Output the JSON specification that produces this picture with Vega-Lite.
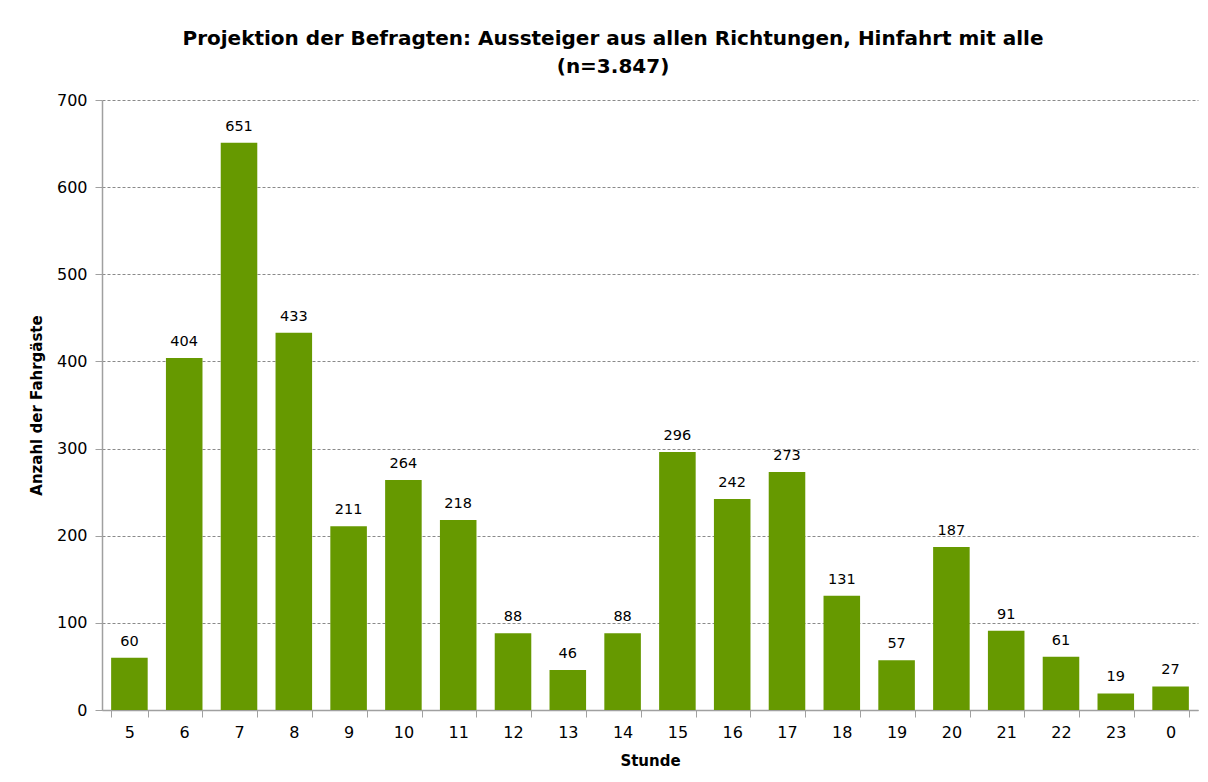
{
  "$schema": "https://vega.github.io/schema/vega-lite/v6.json",
  "width": 1096,
  "height": 610,
  "autosize": {"type": "none"},
  "padding": {"left": 102, "top": 100, "right": 10, "bottom": 72},
  "background": "white",
  "config": {
    "font": "DejaVu Sans",
    "view": {"stroke": null}
  },
  "title": {
    "text": ["Projektion der Befragten: Aussteiger aus allen Richtungen, Hinfahrt mit alle", "(n=3.847)"],
    "font": "DejaVu Sans",
    "fontSize": 20,
    "fontWeight": "bold",
    "color": "black",
    "anchor": "middle",
    "dx": -37,
    "offset": 15,
    "lineHeight": 28
  },
  "data": {
    "values": [
      {"Stunde": "5", "Anzahl": 60},
      {"Stunde": "6", "Anzahl": 404},
      {"Stunde": "7", "Anzahl": 651},
      {"Stunde": "8", "Anzahl": 433},
      {"Stunde": "9", "Anzahl": 211},
      {"Stunde": "10", "Anzahl": 264},
      {"Stunde": "11", "Anzahl": 218},
      {"Stunde": "12", "Anzahl": 88},
      {"Stunde": "13", "Anzahl": 46},
      {"Stunde": "14", "Anzahl": 88},
      {"Stunde": "15", "Anzahl": 296},
      {"Stunde": "16", "Anzahl": 242},
      {"Stunde": "17", "Anzahl": 273},
      {"Stunde": "18", "Anzahl": 131},
      {"Stunde": "19", "Anzahl": 57},
      {"Stunde": "20", "Anzahl": 187},
      {"Stunde": "21", "Anzahl": 91},
      {"Stunde": "22", "Anzahl": 61},
      {"Stunde": "23", "Anzahl": 19},
      {"Stunde": "0", "Anzahl": 27}
    ]
  },
  "encoding": {
    "x": {
      "field": "Stunde",
      "type": "ordinal",
      "sort": null,
      "scale": {"paddingInner": 0.333, "paddingOuter": 0.1667},
      "axis": {
        "title": "Stunde",
        "titleFont": "DejaVu Sans",
        "titleFontSize": 15,
        "titleFontWeight": "bold",
        "titleColor": "black",
        "titlePadding": 13,
        "labelAngle": 0,
        "labelFontSize": 16,
        "labelColor": "black",
        "labelPadding": 7,
        "tickBand": "extent",
        "tickSize": 7,
        "tickColor": "#a0a0a0",
        "domainColor": "#a0a0a0",
        "domainWidth": 1.5
      }
    },
    "y": {
      "field": "Anzahl",
      "type": "quantitative",
      "scale": {"domain": [0, 700], "nice": false},
      "axis": {
        "title": "Anzahl der Fahrgäste",
        "titleFont": "DejaVu Sans",
        "titleFontSize": 15,
        "titleFontWeight": "bold",
        "titleColor": "black",
        "titlePadding": 12,
        "values": [0, 100, 200, 300, 400, 500, 600, 700],
        "labelFontSize": 16,
        "labelColor": "black",
        "labelPadding": 8,
        "tickSize": 7,
        "tickColor": "#a0a0a0",
        "domainColor": "#a0a0a0",
        "domainWidth": 1.5,
        "grid": true,
        "gridColor": "#8a8a8a",
        "gridDash": [3, 2],
        "gridWidth": 1
      }
    }
  },
  "layer": [
    {
      "mark": {"type": "bar", "color": "#669900"}
    },
    {
      "mark": {"type": "text", "baseline": "bottom", "dy": -9, "fontSize": 14.5, "color": "black", "font": "DejaVu Sans"},
      "encoding": {"text": {"field": "Anzahl", "type": "quantitative"}}
    }
  ]
}
